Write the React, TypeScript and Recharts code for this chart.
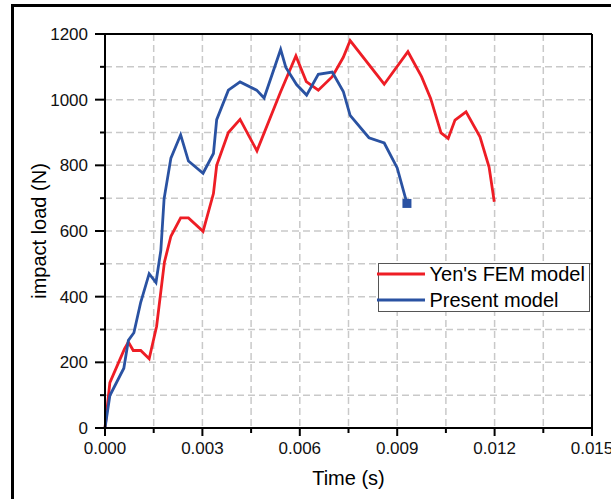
import React from "react";
import {CartesianGrid, Legend, Line, LineChart, XAxis, YAxis} from "recharts";

const FONT = "'Liberation Sans', Arial, sans-serif";
const RED = "#ee1d25";
const BLUE = "#2a52a2";

// Yen's FEM model, time (s) / impact load (N)
const yenTime = [0, 0.00015, 0.0006, 0.00072, 0.00087, 0.0011, 0.00136, 0.00159, 0.00183, 0.00203,
    0.00233, 0.00257, 0.00302, 0.00334, 0.00344, 0.0038, 0.00416, 0.00468, 0.00541, 0.00588,
    0.0062, 0.00657, 0.007, 0.00734, 0.00755, 0.0086, 0.00933, 0.00975, 0.01003, 0.01035,
    0.01057, 0.01078, 0.01112, 0.01155, 0.01183, 0.01199];
const yenLoad = [0, 138, 241, 262, 236, 236, 211, 310, 505, 584,
    640, 640, 599, 714, 800, 900, 940, 844, 1024, 1133,
    1055, 1029, 1070, 1129, 1180, 1047, 1146, 1070, 1004, 899,
    882, 938, 963, 887, 795, 689];

// Present model
const presentTime = [0, 0.00015, 0.00058, 0.00072, 0.00089, 0.0011, 0.00136, 0.00157, 0.00172, 0.00182,
    0.00203, 0.00233, 0.00257, 0.00302, 0.00334, 0.00344, 0.0038, 0.00416, 0.00467, 0.0049,
    0.00541, 0.00557, 0.0059, 0.00621, 0.00657, 0.007, 0.00734, 0.00755, 0.00813, 0.0086,
    0.009, 0.0093];
const presentLoad = [0, 99, 182, 267, 290, 383, 470, 443, 541, 698,
    822, 893, 813, 776, 836, 939, 1029, 1054, 1029, 1005,
    1153, 1098, 1046, 1014, 1077, 1084, 1025, 952, 884, 868,
    792, 684];

const xTicks = [0, 0.0015, 0.003, 0.0045, 0.006, 0.0075, 0.009, 0.0105, 0.012, 0.0135, 0.015];
const yTicks = [0, 100, 200, 300, 400, 500, 600, 700, 800, 900, 1000, 1100, 1200];
const seriesNames = ["Yen's FEM model", "Present model"];

const yenData = yenTime.map((t, i) => ({time: t, load: yenLoad[i]}));
const presentData = presentTime.map((t, i) => ({time: t, load: presentLoad[i]}));

const BottomTick = (props: any) => {
    const {x, y, payload} = props;
    const major = Math.round(payload.value / 0.0015) % 2 === 0;
    const axisY = y - 14;
    return (
        <g>
            <line x1={x} y1={axisY} x2={x} y2={axisY + (major ? 8 : 5)} stroke="#000" strokeWidth={2}/>
            {major && (
                <text x={x} y={y} dy="0.71em" textAnchor="middle" fontSize={17} fontFamily={FONT} fill="#111">
                    {payload.value.toFixed(3)}
                </text>
            )}
        </g>
    );
};

const LeftTick = (props: any) => {
    const {x, y, payload} = props;
    const major = payload.value % 200 === 0;
    const axisX = x + 17;
    return (
        <g>
            <line x1={axisX - (major ? 10 : 5)} y1={y} x2={axisX} y2={y} stroke="#000" strokeWidth={2}/>
            {major && (
                <text x={x} y={y} dy="0.35em" textAnchor="end" fontSize={17} fontFamily={FONT} fill="#111">
                    {payload.value}
                </text>
            )}
        </g>
    );
};

const XTitle = ({viewBox}: any) => (
    <text x={viewBox.x + viewBox.width / 2} y={viewBox.y + 57} textAnchor="middle"
          fontSize={20} fontFamily={FONT} fill="#000">Time (s)</text>
);

const YTitle = ({viewBox}: any) => {
    const x = viewBox.x + 36;
    const y = viewBox.y + viewBox.height / 2;
    return (
        <text x={x} y={y} transform={`rotate(-90 ${x} ${y})`} textAnchor="middle"
              fontSize={20} fontFamily={FONT} fill="#000">impact load (N)</text>
    );
};

const EndSquare = (props: any) => {
    const {cx, cy, index} = props;
    if (index !== presentTime.length - 1) return <g key={index}/>;
    return <rect key={index} x={cx - 4.5} y={cy - 4.5} width={9} height={9} fill={BLUE}/>;
};

const LegendBox = ({payload}: any) => {
    const items = seriesNames
        .map((n) => (payload || []).find((p: any) => p.value === n))
        .filter(Boolean);
    return (
        <div style={{
            position: "relative", width: 212, height: 49, boxSizing: "border-box",
            border: "1.5px solid #555", background: "#fff", fontFamily: FONT
        }}>
            {items.map((item: any, i: number) => (
                <div key={item.value} style={{
                    position: "absolute", left: -2.5, top: -3.5 + i * 26, height: 26,
                    display: "flex", alignItems: "center"
                }}>
                    <svg width={48} height={6} style={{display: "block"}}>
                        <line x1={0} y1={3} x2={48} y2={3} stroke={item.color} strokeWidth={3}/>
                    </svg>
                    <span style={{marginLeft: 5, fontSize: 20, lineHeight: "26px", color: "#000", whiteSpace: "nowrap"}}>
                        {item.value}
                    </span>
                </div>
            ))}
        </div>
    );
};

const axisStroke = {stroke: "#000", strokeWidth: 2};

const App = (): React.JSX.Element => {
    return (
        <div style={{position: "absolute", left: 0, top: 0, width: 611, height: 499, overflow: "hidden", background: "#fff"}}>
            <div style={{
                position: "absolute", left: 11, top: 4, width: 700, height: 600,
                borderLeft: "3px solid #000", borderTop: "3px solid #000"
            }}/>
            <LineChart width={611} height={499} margin={{top: 34, right: 19, left: 10, bottom: 31}}>
                <CartesianGrid stroke="#c9c9c9" strokeWidth={1.5} strokeDasharray="7 4"/>
                <XAxis dataKey="time" type="number" domain={[0, 0.015]} ticks={xTicks} interval={0}
                       height={40} tickSize={0} tickMargin={14} tick={<BottomTick/>} tickLine={false}
                       axisLine={axisStroke} label={<XTitle/>}/>
                <XAxis xAxisId="top" orientation="top" mirror type="number" domain={[0, 0.015]} ticks={xTicks}
                       interval={0} tick={false} tickSize={8} tickLine={axisStroke} axisLine={axisStroke}/>
                <YAxis type="number" domain={[0, 1200]} ticks={yTicks} interval={0} width={95}
                       tickSize={0} tickMargin={17} tick={<LeftTick/>} tickLine={false}
                       axisLine={axisStroke} label={<YTitle/>}/>
                <YAxis yAxisId="right" orientation="right" mirror type="number" domain={[0, 1200]} ticks={yTicks}
                       interval={0} tick={false} tickSize={8} tickLine={axisStroke} axisLine={axisStroke}/>
                <Line data={yenData} dataKey="load" name="Yen's FEM model" type="linear" stroke={RED}
                      strokeWidth={2.8} dot={false} activeDot={false} isAnimationActive={false}/>
                <Line data={presentData} dataKey="load" name="Present model" type="linear" stroke={BLUE}
                      strokeWidth={2.8} dot={(p: any) => <EndSquare key={p.index} {...p}/>} activeDot={false}
                      isAnimationActive={false}/>
                <Legend layout="horizontal" verticalAlign="middle" align="center" content={<LegendBox/>}
                        wrapperStyle={{left: 378, top: 263, width: 212, height: 49}}/>
            </LineChart>
        </div>
    );
};

export default App;
